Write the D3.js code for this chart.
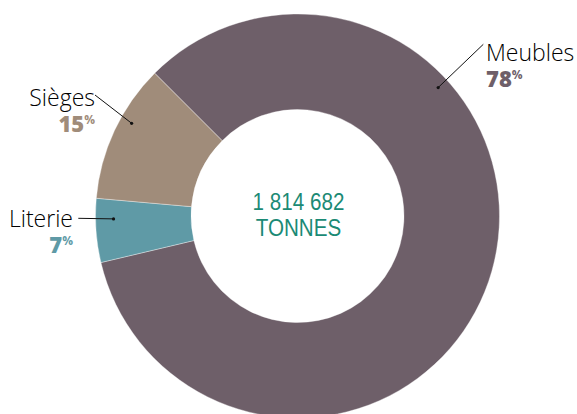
<!DOCTYPE html>
<html>
<head>
<meta charset="utf-8">
<script src="https://cdn.jsdelivr.net/npm/d3@7"></script>
<style>
  html, body { margin: 0; padding: 0; background: #fff; }
  svg { display: block; }
</style>
</head>
<body>
<svg id="chart" width="577" height="414"></svg>
<script>
// ---- data ----
const categories = ["Meubles", "Literie", "Sièges"];
const shares = [83.8, 5.1, 11.1];          // share of the ring as drawn
const shareLabels = ["78", "7", "15"];     // printed percentages
const totalTonnes = 1814682;
const totalUnit = "TONNES";
const colors = ["#6e5f69", "#5f9aa6", "#a08c7a"];

// ---- layout ----
const W = 577, H = 414;
const cx = 297.5, cy = 216;
const outerR = 202, innerR = 106.5;
const labelLayout = {
  "Meubles": { angle: 47.6, r: 190.5, tx: 188.5, ty: -155.5, anchor: "start", lx: 185.8, ly: -171.7 },
  "Literie": { angle: 269.1, r: 184, tx: -224.5, ty: 11, anchor: "end", lx: -219.2, ly: 2.3 },
  "Sièges":  { angle: 299.2, r: 190, tx: -202.5, ty: -110.5, anchor: "end", lx: -202.5, ly: -121 }
};

const svg = d3.select("#chart");
const g = svg.append("g").attr("transform", `translate(${cx},${cy})`);

const pie = d3.pie().sort(null).value(d => d)
  .startAngle(-Math.PI / 4).endAngle(2 * Math.PI - Math.PI / 4);
const arc = d3.arc().innerRadius(innerR).outerRadius(outerR);

const arcs = pie(shares);
g.selectAll("path.slice").data(arcs).join("path")
  .attr("class", "slice")
  .attr("d", arc)
  .attr("fill", (d, i) => colors[i])
  .attr("stroke", "rgba(255,255,255,0.45)")
  .attr("stroke-width", 0.8);

// labels
const deg = Math.PI / 180;
categories.forEach((c, i) => {
  const L = labelLayout[c];
  const a = L.angle * deg;
  const px = Math.sin(a) * L.r, py = -Math.cos(a) * L.r;
  g.append("line")
    .attr("x1", L.lx).attr("y1", L.ly)
    .attr("x2", px).attr("y2", py)
    .attr("stroke", "#111").attr("stroke-width", 1);
  g.append("circle").attr("cx", px).attr("cy", py).attr("r", 1.6).attr("fill", "#111");

  const t = g.append("text")
    .attr("text-anchor", L.anchor)
    .attr("font-family", "'Open Sans', sans-serif");
  t.append("tspan")
    .attr("x", L.tx).attr("y", L.ty)
    .attr("font-weight", 300)
    .attr("font-size", 23)
    .attr("fill", "#000")
    .text(c);
  t.append("tspan")
    .attr("x", L.tx).attr("y", L.ty + 26)
    .attr("font-weight", 800)
    .attr("font-size", 22)
    .attr("fill", colors[i])
    .text(shareLabels[i]);
  t.append("tspan")
    .attr("dy", -8)
    .attr("font-size", 12).attr("font-weight", 700)
    .attr("fill", colors[i])
    .text("%");
});

// center text
const fr = d3.formatLocale({ decimal: ",", thousands: "\u00a0", grouping: [3], currency: ["", " €"] });
const center = g.append("g").attr("transform", "translate(1,0) scale(0.86,1)")
  .append("text")
  .attr("text-anchor", "middle")
  .attr("font-family", "'Liberation Sans', sans-serif")
  .attr("font-size", 24)
  .attr("fill", "#1b8a75");
center.append("tspan").attr("x", 0).attr("y", -6).text(fr.format(",")(totalTonnes));
center.append("tspan").attr("x", 0).attr("y", 19.5).text(totalUnit);
</script>
</body>
</html>
